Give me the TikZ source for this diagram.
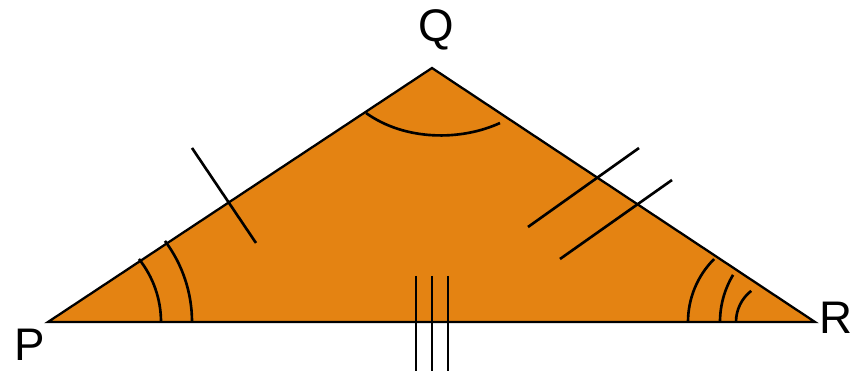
\documentclass[tikz,border=0pt]{standalone}
\usepackage{fontspec}
\setmainfont{Liberation Sans}
\usepackage{tikz}
\usetikzlibrary{calc}
\usepackage{tkz-euclide}
\definecolor{triorange}{RGB}{228,131,18}
\tikzset{
  side/.style={black, line width=1.3pt},
  tickmark/.style={black, line width=1.5pt},
  vlabel/.style={font=\fontsize{26}{30}\selectfont}
}

\begin{document}
\begin{tikzpicture}
                \useasboundingbox (0,0) rectangle (17.18,7.46);
                \tkzDefPoint(0.96,1.02){P}
                \tkzDefPoint(8.64,6.10){Q}
                \tkzDefPoint(16.30,1.02){R}
                \fill[triorange] (P) -- (Q) -- (R) -- cycle;
                \draw[side, line join=miter] (P) -- (Q) -- (R) -- cycle;
                % equal-side ticks
                \draw[tickmark] (3.84,4.50) -- (5.12,2.60);
                \draw[tickmark] (10.56,2.92) -- (12.78,4.50);
                \draw[tickmark] (11.20,2.28) -- (13.44,3.86);
                \foreach \x in {8.32,8.64,8.96}
                    \draw[tickmark] (\x,1.94) -- (\x,0.04);
                % angle marks
                \draw[tickmark] ($(P)+(2.26,0)$) arc (0:38.6:2.02);
                \draw[tickmark] ($(P)+(2.88,0)$) arc (0:36.9:2.70);
                \draw[tickmark] (7.32,5.20) .. controls (8.10,4.64) and (9.22,4.64) .. (10.00,5.00);
                \draw[tickmark] ($(R)+(-2.54,0)$) arc (180:135:1.78);
                \draw[tickmark] ($(R)+(-1.90,0)$) arc (180:149:1.83);
                \draw[tickmark] ($(R)+(-1.58,0)$) arc (180:128:0.79);
                \node[vlabel] (lQ) at (8.72,6.86) {Q};
                \node[vlabel] (lP) at (0.60,0.56) {P};
                \node[vlabel] (lR) at (16.72,1.10) {R};
            \end{tikzpicture}
\end{document}
